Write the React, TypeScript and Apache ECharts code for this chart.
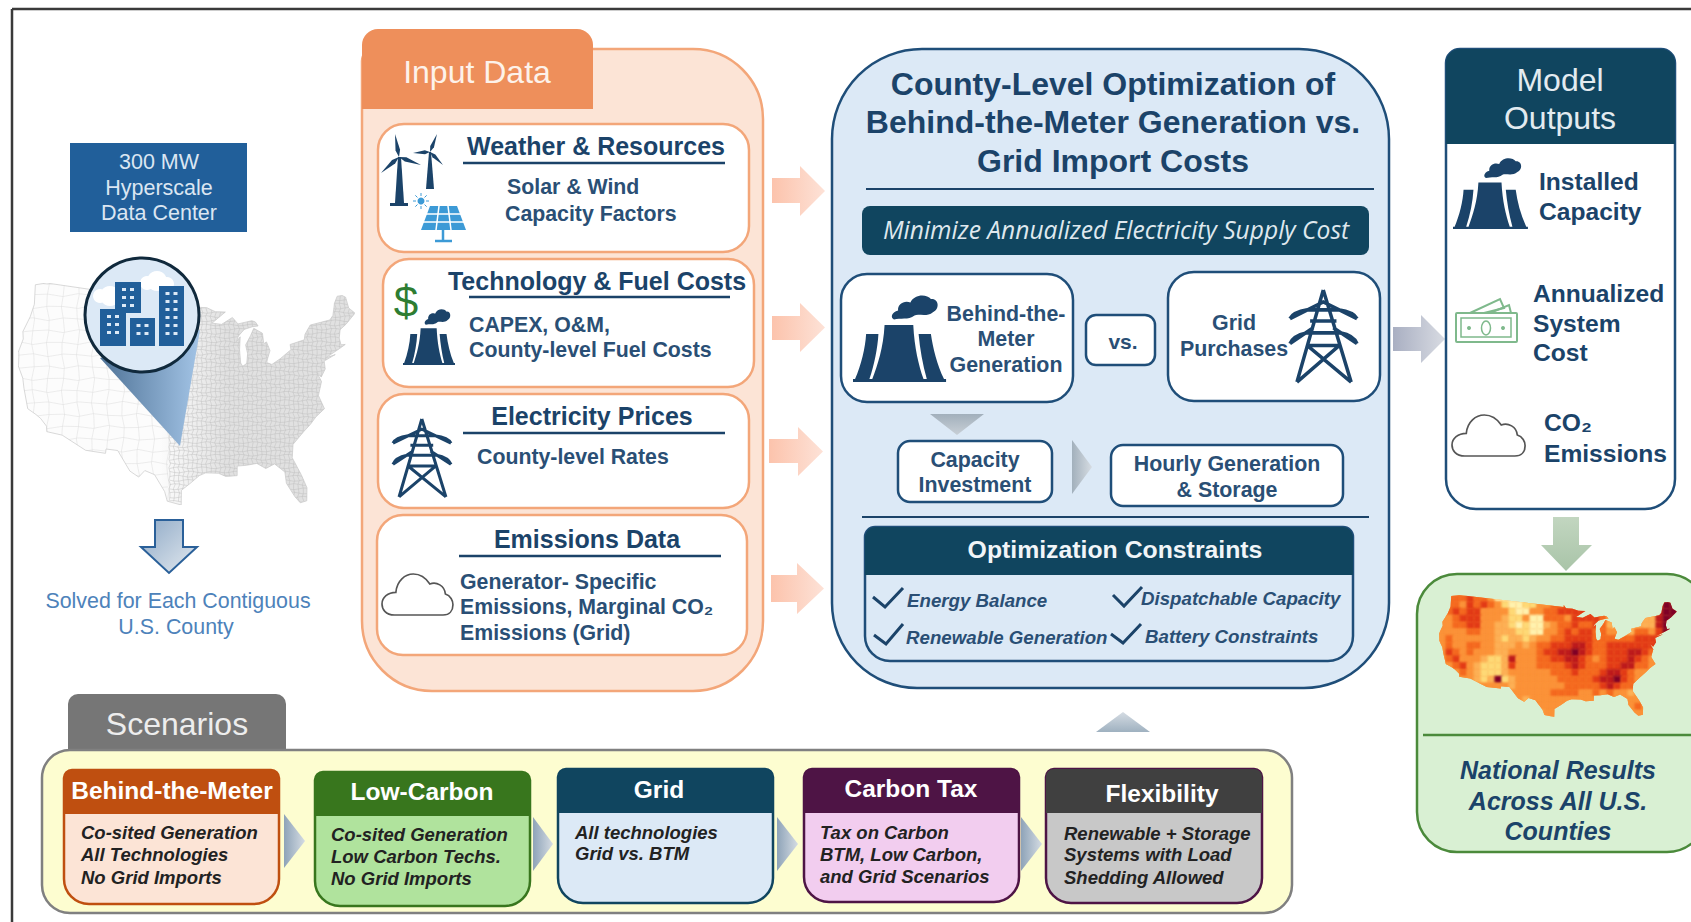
import React, { useEffect, useRef } from "react";
import * as echarts from "echarts";

const FONT = '"Liberation Sans", Arial, sans-serif';
const NAVY = "#1b4369";
const BODY = "#2a4f75";
const DEEP = "#10455f";
const EDGE = "#1f4e79";
const ORANGE_EDGE = "#f3a679";
const PALE_BLUE = "#dce9f6";

const usOutline: number[][] = [
  [-124.7,48.4],[-122.8,49],[-95.2,49],[-95.15,49.4],[-94.6,48.7],[-92.9,48.6],[-91.4,48.1],[-89.6,48],[-92.1,46.8],[-90.4,46.6],[-88.4,47.3],[-87.5,46.5],[-85,46.7],[-84.4,46.5],[-84,46],[-85,46],[-86.5,45.8],[-87.6,45.1],[-88,44.5],[-87.3,45],[-87.6,43.5],[-87.6,42],[-87.3,41.6],[-86.6,41.9],[-86.3,43],[-86.5,44],[-85.5,45],[-84.8,45.8],[-83.4,45.1],[-83.4,44],[-83.9,43.7],[-82.9,44.05],[-82.5,43],[-83.1,42.1],[-83.3,41.7],[-82.5,41.4],[-81,41.9],[-79,42.7],[-79,43.3],[-76.5,43.5],[-76.2,44.1],[-75,45],[-71.5,45],[-70.8,45.4],[-70.3,46.2],[-70,46.7],[-69.2,47.4],[-68.3,47.3],[-67.8,47],[-67.8,45.7],[-67,44.9],[-69,44],[-70.2,43.6],[-70.7,42.7],[-70.7,41.9],[-70,41.8],[-71.2,41.5],[-73.7,40.9],[-72,41],[-74,40.6],[-74.1,39.7],[-75,38.9],[-75.5,39.5],[-75.1,38.4],[-75.9,37.1],[-76,36.9],[-75.5,35.3],[-77,34.6],[-78,33.9],[-79.2,33.2],[-81,32],[-81.4,30.5],[-80.5,28.4],[-80,26.8],[-80.3,25.3],[-81.2,25.2],[-81.8,26],[-82.7,27.7],[-82.7,29],[-84,30.1],[-85.3,29.7],[-86.5,30.4],[-88,30.3],[-89.3,30.3],[-89.4,29.2],[-91,29.2],[-92,29.6],[-93.8,29.7],[-94.7,29.4],[-96,28.5],[-97.2,27.7],[-97.2,26],[-99.1,26.4],[-99.5,27.5],[-101,29.4],[-102.4,29.8],[-103.2,29],[-104.5,29.6],[-106.5,31.8],[-108.2,31.8],[-108.2,31.3],[-111.1,31.3],[-114.8,32.5],[-117.1,32.5],[-117.3,33.1],[-118.4,33.8],[-119.2,34.1],[-120.6,34.5],[-121.9,36.6],[-122.5,37.7],[-123.7,38.9],[-124.3,40.3],[-124.1,42],[-124.5,42.8],[-124,44.7],[-123.9,46.2],
];

const heatPalette = ["#fff2ae","#fed976","#fdb055","#fb9238","#f4681f","#e23a16","#bd1a1c","#7f0026"];
const heatRows = [
  "3444544300001034344454433333333333",
  "3443545431001133445555443333333377",
  "3454553333100334455555544433333677",
  "3345553332113004443555542222322677",
  "3344553322101002344544542222222677",
  "3333443322211003345455443322443576",
  "3433333321221233445555444444555566",
  "3433443322232344555665445555555633",
  "3543433322333345566765445556654333",
  "3453332112633344556654345556543333",
  "3345321112533344445654445566443333",
  "3334321112333333444544456654333333",
  "3333321271233333344444566754333333",
  "3333333333233333334444456544433333",
  "3333333333333333444433434332343333",
  "3333333333232333333333333333343333",
  "3333333333333533333333333333433333",
  "3333333333333223333333333333333333",
];

const inputBoxes = [
  { x: 378, y: 124, w: 371, h: 128 },
  { x: 383, y: 259, w: 371, h: 128 },
  { x: 378, y: 394, w: 371, h: 114 },
  { x: 377, y: 515, w: 370, h: 140 },
];
const inputTitles: [string, number, number][] = [
  ["Weather & Resources", 596, 146],
  ["Technology & Fuel Costs", 597, 281],
  ["Electricity Prices", 592, 416],
  ["Emissions Data", 587, 539],
];
const inputRules: [number, number, number][] = [
  [463, 725, 163],
  [469, 730, 297],
  [463, 725, 433],
  [459, 721, 556],
];
const inputLines: [string, number, number][] = [
  ["Solar & Wind", 507, 187],
  ["Capacity Factors", 505, 214],
  ["CAPEX, O&M,", 469, 325],
  ["County-level Fuel Costs", 469, 350],
  ["County-level Rates", 477, 457],
  ["Generator- Specific", 460, 582],
  ["Emissions, Marginal CO₂", 460, 607],
  ["Emissions (Grid)", 460, 633],
];
const pinkArrows = [
  { x0: 772, x1: 800, x2: 825, top: 166, s0: 178, s1: 203, bot: 216 },
  { x0: 772, x1: 800, x2: 825, top: 303, s0: 316, s1: 340, bot: 352 },
  { x0: 769, x1: 798, x2: 823, top: 427, s0: 439, s1: 463, bot: 476 },
  { x0: 771, x1: 797, x2: 824, top: 563, s0: 575, s1: 602, bot: 614 },
];
const titleLines: [string, number][] = [
  ["County-Level Optimization of", 84],
  ["Behind-the-Meter Generation vs.", 122],
  ["Grid Import Costs", 161],
];
const constraintLabels: [string, number, number][] = [
  ["Energy Balance", 907, 600],
  ["Renewable Generation", 906, 637],
  ["Dispatchable Capacity", 1141, 598],
  ["Battery Constraints", 1145, 636],
];
const checkMarks: number[][][] = [
  [[873,597],[885,607],[903,588]],
  [[874,635],[886,644],[903,624]],
  [[1113,595],[1124,606],[1142,587]],
  [[1111,634],[1123,643],[1141,624]],
];
const outputLines: [string, number, number][] = [
  ["Installed", 1539, 181],
  ["Capacity", 1539, 211],
  ["Annualized", 1533, 293],
  ["System", 1533, 323],
  ["Cost", 1533, 352],
  ["CO₂", 1544, 422],
  ["Emissions", 1544, 453],
];
const scenarioCards = [
  { title: "Behind-the-Meter", x: 64, y: 770, r: 279, b: 904, hb: 814, head: "#bf4f10", edge: "#bf4f10", body: "#fce4d6", tx: 172, ty: 790, lx: 81, ly: [832, 854, 877], lines: ["Co-sited Generation", "All Technologies", "No Grid Imports"] },
  { title: "Low-Carbon", x: 315, y: 772, r: 530, b: 906, hb: 816, head: "#38761d", edge: "#38761d", body: "#b0e39d", tx: 422, ty: 791, lx: 331, ly: [834, 856, 878], lines: ["Co-sited Generation", "Low Carbon Techs.", "No Grid Imports"] },
  { title: "Grid", x: 558, y: 769, r: 773, b: 903, hb: 813, head: DEEP, edge: DEEP, body: PALE_BLUE, tx: 659, ty: 789, lx: 575, ly: [832, 853], lines: ["All technologies", "Grid vs. BTM"] },
  { title: "Carbon Tax", x: 804, y: 769, r: 1019, b: 902, hb: 813, head: "#4e1445", edge: "#4e1445", body: "#f2cdef", tx: 911, ty: 788, lx: 820, ly: [832, 854, 876], lines: ["Tax on Carbon", "BTM, Low Carbon,", "and Grid Scenarios"] },
  { title: "Flexibility", x: 1046, y: 769, r: 1262, b: 903, hb: 813, head: "#404040", edge: "#4e1445", body: "#c8c8c8", tx: 1162, ty: 793, lx: 1064, ly: [833, 854, 877], lines: ["Renewable + Storage", "Systems with Load", "Shedding Allowed"] },
];
const scenarioChevrons: number[][] = [
  [284, 305, 814, 868],
  [533, 553, 817, 871],
  [777, 798, 817, 871],
  [1021, 1042, 817, 871],
];

const PLANT_PATH =
  "M77 73L147 73C150 130 160 170 172 205L47 205C60 170 74 130 77 73Z M32 95L62 95C60 130 52 170 40 205L5 205C20 170 30 130 32 95Z M160 95L190 95C195 130 205 170 222 205L180 205C170 170 163 130 160 95Z M0 205L227 205L227 212L0 212Z M100 60C90 55 95 42 110 38C108 22 125 12 140 18C150 -3 180 -3 190 10C210 8 212 35 195 42C180 55 160 45 150 50C135 62 115 55 100 60Z";
const TOWER_PATH =
  "M86 0L18 232M86 0L158 232M0 72Q8 56 45 50L125 50Q165 56 173 72M0 135Q8 115 42 108L130 108Q165 115 173 135M0 72L86 30L173 72M0 135L60 95M173 135L112 95M52 78L120 78M45 140L127 140M45 140L158 232M127 140L18 232";
const CLOUD_PATH =
  "M38 123C10 123 0 105 0 90C0 70 18 55 42 55C45 20 70 0 95 0C120 0 135 15 145 30C165 22 190 35 192 60C208 65 215 80 215 92C215 110 205 123 185 123Z";

function projected(): number[][] {
  const rad = Math.PI / 180;
  const p1 = 29.5 * rad, p2 = 45.5 * rad, p0 = 37.5 * rad, l0 = -96 * rad;
  const n = (Math.sin(p1) + Math.sin(p2)) / 2;
  const c = Math.cos(p1) ** 2 + 2 * n * Math.sin(p1);
  const r0 = Math.sqrt(c - 2 * n * Math.sin(p0)) / n;
  const pts = usOutline.map(([lon, lat]) => {
    const r = Math.sqrt(c - 2 * n * Math.sin(lat * rad)) / n;
    const t = n * (lon * rad - l0);
    return [r * Math.sin(t), -(r0 - r * Math.cos(t))];
  });
  const xs = pts.map((p) => p[0]), ys = pts.map((p) => p[1]);
  const x0 = Math.min(...xs), x1 = Math.max(...xs), y0 = Math.min(...ys), y1 = Math.max(...ys);
  return pts.map(([x, y]) => [(x - x0) / (x1 - x0), (y - y0) / (y1 - y0)]);
}

function outlinePath(ctx: CanvasRenderingContext2D, pts: number[][], w: number, h: number) {
  ctx.beginPath();
  pts.forEach(([x, y], i) => (i ? ctx.lineTo(x * w, y * h) : ctx.moveTo(x * w, y * h)));
  ctx.closePath();
}

function wobblyGrid(ctx: CanvasRenderingContext2D, x0: number, x1: number, h: number, sx: number, sy: number, amp: number) {
  ctx.beginPath();
  for (let x = x0; x <= x1; x += sx) {
    for (let y = 0; y <= h; y += sy) {
      const px = x + amp * Math.sin(y * 0.9 + x * 1.3);
      y === 0 ? ctx.moveTo(px, y) : ctx.lineTo(px, y);
    }
  }
  for (let y = 0; y <= h; y += sy) {
    for (let x = x0; x <= x1; x += sx) {
      const py = y + amp * Math.sin(x * 1.1 + y * 0.7);
      x === x0 ? ctx.moveTo(x, py) : ctx.lineTo(x, py);
    }
  }
  ctx.stroke();
}

function countyMap(w: number, h: number): string {
  const cv = document.createElement("canvas");
  cv.width = w; cv.height = h;
  const ctx = cv.getContext("2d")!;
  const pts = projected();
  ctx.save();
  outlinePath(ctx, pts, w, h);
  ctx.clip();
  ctx.fillStyle = "#fcfcfc";
  ctx.fillRect(0, 0, w, h);
  const tint = ctx.createLinearGradient(w * 0.42, 0, w * 0.62, 0);
  tint.addColorStop(0, "rgba(225,225,225,0)");
  tint.addColorStop(1, "rgba(225,225,225,1)");
  ctx.fillStyle = tint;
  ctx.fillRect(0, 0, w, h);
  ctx.filter = "blur(0.4px)";
  ctx.lineWidth = 0.5;
  ctx.strokeStyle = "#dddddd";
  wobblyGrid(ctx, 0, w * 0.45, h, 15, 12, 1.6);
  ctx.strokeStyle = "#bcbcbc";
  ctx.lineWidth = 0.45;
  wobblyGrid(ctx, w * 0.45, w, h, 4.6, 4.2, 0.9);
  ctx.restore();
  ctx.filter = "none";
  ctx.strokeStyle = "#c8c8c8";
  ctx.lineWidth = 0.7;
  outlinePath(ctx, pts, w, h);
  ctx.stroke();
  return cv.toDataURL();
}

function heatMap(w: number, h: number): string {
  const cv = document.createElement("canvas");
  cv.width = w; cv.height = h;
  const ctx = cv.getContext("2d")!;
  const pts = projected();
  outlinePath(ctx, pts, w, h);
  ctx.clip();
  const cw = w / heatRows[0].length, ch = h / heatRows.length;
  ctx.filter = "blur(0.9px)";
  ctx.fillStyle = heatPalette[3];
  ctx.fillRect(0, 0, w, h);
  heatRows.forEach((row, j) => {
    row.split("").forEach((v, i) => {
      ctx.fillStyle = heatPalette[Number(v)];
      ctx.fillRect(i * cw - 0.5, j * ch - 0.5, cw + 1, ch + 1);
    });
  });
  return cv.toDataURL();
}

const grad = (x2: number, y2: number, a: string, b: string) =>
  new echarts.graphic.LinearGradient(0, 0, x2, y2, [
    { offset: 0, color: a },
    { offset: 1, color: b },
  ]);

function T(text: string, x: number, y: number, size: number, fill: string, o: any = {}) {
  const align = o.a ?? "left";
  return {
    type: "text",
    silent: true,
    x,
    y,
    style: {
      text,
      fontSize: size,
      fontFamily: o.f ?? FONT,
      fontWeight: o.w ?? "normal",
      fontStyle: o.i ? "italic" : "normal",
      fill,
      align,
      verticalAlign: "middle",
      textAlign: align,
      textVerticalAlign: "middle",
    },
  };
}
function R(x: number, y: number, w: number, h: number, r: any, fill: any, stroke?: string, lw = 2) {
  return {
    type: "rect",
    silent: true,
    shape: { x, y, width: w, height: h, r },
    style: { fill, stroke: stroke ?? "none", lineWidth: stroke ? lw : 0 },
  };
}
function L(x1: number, y1: number, x2: number, y2: number, stroke: string, lw = 2) {
  return { type: "line", silent: true, shape: { x1, y1, x2, y2 }, style: { stroke, lineWidth: lw } };
}
function P(points: number[][], fill: any, stroke?: string, lw = 0) {
  return { type: "polygon", silent: true, shape: { points }, style: { fill, stroke: stroke ?? "none", lineWidth: lw } };
}
function C(cx: number, cy: number, r: number, fill: string, stroke?: string, lw = 0) {
  return { type: "circle", silent: true, shape: { cx, cy, r }, style: { fill, stroke: stroke ?? "none", lineWidth: lw } };
}
function icon(type: string, x: number, y: number, w: number, h: number, bw: number, bh: number, style: any) {
  return { type, silent: true, x, y, scaleX: w / bw, scaleY: h / bh, style };
}
const plant = (x: number, y: number, w: number, h: number) =>
  icon("plantIcon", x, y, w, h, 227, 212, { fill: NAVY, stroke: "none" });
const tower = (x: number, y: number, w: number, h: number) =>
  icon("towerIcon", x, y, w, h, 173, 232, { fill: "none", stroke: NAVY, lineWidth: 9 });
const cloud = (x: number, y: number, w: number, h: number) =>
  icon("cloudIcon", x, y, w, h, 215, 123, { fill: "#fff", stroke: "#555", lineWidth: 5 });

function blade(hub: number[], tip: number[], width: number, color: string) {
  const dx = tip[0] - hub[0], dy = tip[1] - hub[1];
  const len = Math.hypot(dx, dy);
  const nx = (-dy / len) * width, ny = (dx / len) * width;
  const mx = hub[0] + dx * 0.3, my = hub[1] + dy * 0.3;
  return P([hub, [mx + nx, my + ny], tip, [mx - nx, my - ny]], color);
}

function buildElements(): any[] {
  const els: any[] = [];
  // frame
  els.push(L(12, 9, 1691, 9, "#3a3a3a", 2.5), L(12, 9, 12, 922, "#3a3a3a", 2.5));

  // left column
  els.push({ type: "image", silent: true, style: { image: countyMap(337, 222), x: 18, y: 283, width: 337, height: 222 } });
  els.push(R(70, 143, 177, 89, 0, "#215f9a"));
  ["300 MW", "Hyperscale", "Data Center"].forEach((t, i) =>
    els.push(T(t, 159, 162 + i * 25.5, 21.5, "#dbe6f2", { a: "center" }))
  );
  els.push(P([[100, 358], [180, 446], [200, 330]], grad(1, 0, "#4f7397", "#a3c4e6")));
  els.push(C(142, 315, 57, PALE_BLUE, "#10293c", 3));
  const cloudsWhite: number[][] = [[110, 296, 10], [100, 296, 7], [120, 296, 7], [157, 281, 10], [147, 283, 7], [167, 284, 7]];
  cloudsWhite.forEach(([x, y, r]) => els.push(C(x, y, r, "#ffffff")));
  const blocks: number[][] = [
    [115, 282, 26, 31], [100, 309, 26, 37], [130, 318, 25, 28], [159, 286, 25, 60],
  ];
  blocks.forEach((b) => els.push(R(b[0], b[1], b[2], b[3], 0, "#215f9a")));
  blocks.forEach((b) => {
    for (let yy = b[1] + 6; yy < b[1] + b[3] - 8; yy += 8) {
      els.push(R(b[0] + b[2] / 2 - 6, yy, 4, 3, 0, PALE_BLUE), R(b[0] + b[2] / 2 + 2, yy, 4, 3, 0, PALE_BLUE));
    }
  });
  els.push(P([[155, 520], [183, 520], [183, 547], [197, 547], [169, 573], [141, 547], [155, 547]], grad(1, 1, "#8ea9c6", "#e4eaf0"), "#2a6099", 2));
  els.push(T("Solved for Each Contiguous", 178, 601, 21.4, "#4d82ba", { a: "center" }));
  els.push(T("U.S. County", 176, 627, 21.4, "#4d82ba", { a: "center" }));

  // input panel
  els.push(R(362, 49, 401, 642, [12, 70, 70, 70], "#fce4d6", ORANGE_EDGE, 2.5));
  els.push(R(362, 29, 231, 80, [16, 16, 0, 0], "#ee8f5b"));
  els.push(T("Input Data", 477, 72, 32, "#fdf2ea", { a: "center" }));
  inputBoxes.forEach((b) => els.push(R(b.x, b.y, b.w, b.h, 26, "#ffffff", ORANGE_EDGE, 2.5)));
  inputTitles.forEach(([t, x, y]) => els.push(T(t, x, y, 25, NAVY, { a: "center", w: "bold" })));
  inputRules.forEach(([a, b, y]) => els.push(L(a, y, b, y, NAVY, 2.5)));
  inputLines.forEach(([t, x, y]) => els.push(T(t, x, y, 21.3, BODY, { w: "bold" })));
  pinkArrows.forEach((a) =>
    els.push(
      P(
        [[a.x0, a.s0], [a.x1, a.s0], [a.x1, a.top], [a.x2, (a.top + a.bot) / 2], [a.x1, a.bot], [a.x1, a.s1], [a.x0, a.s1]],
        grad(1, 0, "#fcc3ac", "#fde2d7")
      )
    )
  );
  // turbines + solar
  const navy = NAVY;
  els.push(P([[398, 157], [401, 157], [404, 203], [395, 203]], navy), R(390, 203, 18, 3, 0, navy));
  [[395, 134], [421, 165], [381, 173]].forEach((tip) => els.push(blade([399, 157], tip, 2.3, navy)));
  els.push(P([[429, 152], [431, 152], [434, 189], [426, 189]], navy));
  [[437, 134], [443, 165], [413, 153]].forEach((tip) => els.push(blade([430, 152], tip, 2, navy)));
  const solar = "#3c9ad6";
  els.push(C(421, 201, 3.5, solar));
  for (let k = 0; k < 8; k++) {
    const a = (k * Math.PI) / 4;
    els.push(L(421 + 5 * Math.cos(a), 201 + 5 * Math.sin(a), 421 + 8 * Math.cos(a), 201 + 8 * Math.sin(a), solar, 1));
  }
  els.push(P([[430, 206], [457, 206], [466, 230], [421, 230]], solar));
  els.push(L(425, 214, 462, 214, "#fff", 1.5), L(423, 222, 464, 222, "#fff", 1.5), L(439, 206, 436, 230, "#fff", 1.5), L(448, 206, 451, 230, "#fff", 1.5));
  els.push(L(443, 230, 443, 240, solar, 2.5), L(435, 241, 452, 241, solar, 2.5));
  els.push(T("$", 406, 301, 44, "#2e7d32", { a: "center" }));
  els.push(plant(403, 309, 52, 56));
  els.push(tower(393, 419, 58, 78));
  els.push(cloud(382, 574, 71, 41));

  // centre panel
  els.push(R(832, 49, 557, 639, [90, 90, 85, 85], PALE_BLUE, EDGE, 2.5));
  titleLines.forEach(([t, y]) => els.push(T(t, 1113, y, 32, NAVY, { a: "center", w: "bold" })));
  els.push(L(866, 189, 1374, 189, NAVY, 2));
  els.push(R(862, 206, 507, 49, 8, DEEP));
  els.push(T("Minimize Annualized Electricity Supply Cost", 1116, 229, 24.6, "#dfe8ee", { a: "center", i: true, f: '"Open Sans", sans-serif' }));
  els.push(R(841, 274, 232, 128, 26, "#fff", EDGE, 2.5));
  els.push(plant(853, 295, 93, 87));
  [["Behind-the-", 314], ["Meter", 339], ["Generation", 365]].forEach(([t, y]) =>
    els.push(T(t as string, 1006, y as number, 21.4, BODY, { a: "center", w: "bold" }))
  );
  els.push(R(1086, 315, 69, 50, 10, "#fff", EDGE, 2.5));
  els.push(T("vs.", 1123, 341, 21, BODY, { a: "center", w: "bold" }));
  els.push(R(1168, 272, 212, 129, 26, "#fff", EDGE, 2.5));
  els.push(T("Grid", 1234, 323, 21.4, BODY, { a: "center", w: "bold" }));
  els.push(T("Purchases", 1234, 349, 21.4, BODY, { a: "center", w: "bold" }));
  els.push(tower(1290, 290, 67, 92));
  els.push(P([[930, 414], [984, 414], [957, 435]], grad(0, 1, "#a2b0bc", "#c8cfd6")));
  els.push(R(898, 441, 154, 61, 12, "#fff", EDGE, 2.5));
  els.push(T("Capacity", 975, 460, 21.4, BODY, { a: "center", w: "bold" }));
  els.push(T("Investment", 975, 485, 21.4, BODY, { a: "center", w: "bold" }));
  els.push(P([[1072, 440], [1092, 467], [1072, 494]], grad(1, 0, "#a2b0bc", "#d6dce2")));
  els.push(R(1111, 445, 232, 61, 12, "#fff", EDGE, 2.5));
  els.push(T("Hourly Generation", 1227, 464, 21.4, BODY, { a: "center", w: "bold" }));
  els.push(T("& Storage", 1227, 490, 21.4, BODY, { a: "center", w: "bold" }));
  els.push(L(862, 517, 1369, 517, NAVY, 2));
  els.push(R(865, 527, 488, 134, [10, 10, 25, 25], PALE_BLUE, EDGE, 2.5));
  els.push(R(865, 527, 488, 48, [10, 10, 0, 0], DEEP));
  els.push(T("Optimization Constraints", 1115, 549, 24.8, "#f1f5f8", { a: "center", w: "bold" }));
  constraintLabels.forEach(([t, x, y]) => els.push(T(t, x, y, 18.7, BODY, { w: "bold", i: true })));
  checkMarks.forEach((pts) =>
    els.push({ type: "polyline", silent: true, shape: { points: pts }, style: { fill: "none", stroke: NAVY, lineWidth: 3 } })
  );
  els.push(P([[1123, 712], [1150, 732], [1096, 732]], grad(0, 1, "#d5dce3", "#9fb1c0")));

  // outputs
  els.push(P([[1393, 327], [1421, 327], [1421, 315], [1445, 339], [1421, 363], [1421, 351], [1393, 351]], grad(1, 0, "#a9afc2", "#d8dbe2")));
  els.push(R(1446, 49, 229, 460, [14, 14, 30, 30], "#fff", EDGE, 2.5));
  els.push(R(1446, 49, 229, 95, [14, 14, 0, 0], DEEP));
  els.push(T("Model", 1560, 80, 32, "#e3ebf0", { a: "center" }));
  els.push(T("Outputs", 1560, 118, 32, "#e3ebf0", { a: "center" }));
  els.push(plant(1453, 158, 75, 71));
  outputLines.forEach(([t, x, y]) => els.push(T(t, x, y, 24.6, NAVY, { w: "bold" })));
  const g = "#7fb98c";
  els.push(R(1456, 313, 61, 29, 1, "#fff", g, 2), R(1461, 318, 50, 19, 0, "#fff", g, 1.5));
  els.push({ type: "ellipse", silent: true, shape: { cx: 1486, cy: 328, rx: 4.5, ry: 7 }, style: { fill: "#fff", stroke: g, lineWidth: 1.5 } });
  els.push(C(1469, 328, 2, g), C(1503, 328, 2, g));
  els.push({ type: "polyline", silent: true, shape: { points: [[1470, 313], [1500, 299], [1504, 308], [1484, 313]] }, style: { fill: "none", stroke: g, lineWidth: 2 } });
  els.push({ type: "polyline", silent: true, shape: { points: [[1490, 313], [1509, 305], [1511, 313]] }, style: { fill: "none", stroke: g, lineWidth: 2 } });
  els.push(cloud(1452, 415, 73, 41));

  // results
  els.push(P([[1553, 517], [1579, 517], [1579, 545], [1592, 545], [1566, 571], [1541, 545], [1553, 545]], grad(0, 1, "#c2d6c0", "#a9c4a8")));
  els.push(R(1417, 574, 290, 278, 40, "#d9f0d3", "#4b8a3b", 2.5));
  els.push({ type: "image", silent: true, style: { image: heatMap(238, 122), x: 1439, y: 595, width: 238, height: 122 } });
  els.push(L(1423, 735, 1691, 735, "#4b8a3b", 2.5));
  ["National Results", "Across All U.S.", "Counties"].forEach((t, i) =>
    els.push(T(t, 1558, [770, 801, 831][i], 25, NAVY, { a: "center", w: "bold", i: true }))
  );

  // scenarios
  els.push(R(68, 694, 218, 60, [10, 10, 0, 0], "#767676"));
  els.push(T("Scenarios", 177, 724, 32, "#ededed", { a: "center" }));
  els.push(R(42, 750, 1250, 163, 28, "#fdfdd0", "#808080", 2.5));
  scenarioCards.forEach((c) => {
    els.push(R(c.x, c.y, c.r - c.x, c.b - c.y, [8, 8, 25, 25], c.body, c.edge, 2.5));
    els.push(R(c.x, c.y, c.r - c.x, c.hb - c.y, [8, 8, 0, 0], c.head));
    els.push(T(c.title, c.tx, c.ty, 24.5, "#ffffff", { a: "center", w: "bold" }));
    c.lines.forEach((t, i) => els.push(T(t, c.lx, c.ly[i], 18.5, "#222222", { w: "bold", i: true })));
  });
  scenarioChevrons.forEach(([a, b, t, d]) =>
    els.push(P([[a, t], [b, (t + d) / 2], [a, d]], grad(1, 0, "#8ea3b8", "#d5dce3")))
  );
  return els;
}

export default function App() {
  const ref = useRef<HTMLDivElement>(null);
  useEffect(() => {
    echarts.graphic.registerShape("plantIcon", echarts.graphic.extendPath(PLANT_PATH, {}));
    echarts.graphic.registerShape("towerIcon", echarts.graphic.extendPath(TOWER_PATH, {}));
    echarts.graphic.registerShape("cloudIcon", echarts.graphic.extendPath(CLOUD_PATH, {}));
    const chart = echarts.init(ref.current!, undefined, { renderer: "svg" });
    chart.setOption({
      animation: false,
      backgroundColor: "#ffffff",
      graphic: { elements: buildElements() },
    });
    return () => chart.dispose();
  }, []);
  return (
    <div
      ref={ref}
      style={{ position: "absolute", left: 0, top: 0, width: 1691, height: 922, overflow: "hidden" }}
    />
  );
}
